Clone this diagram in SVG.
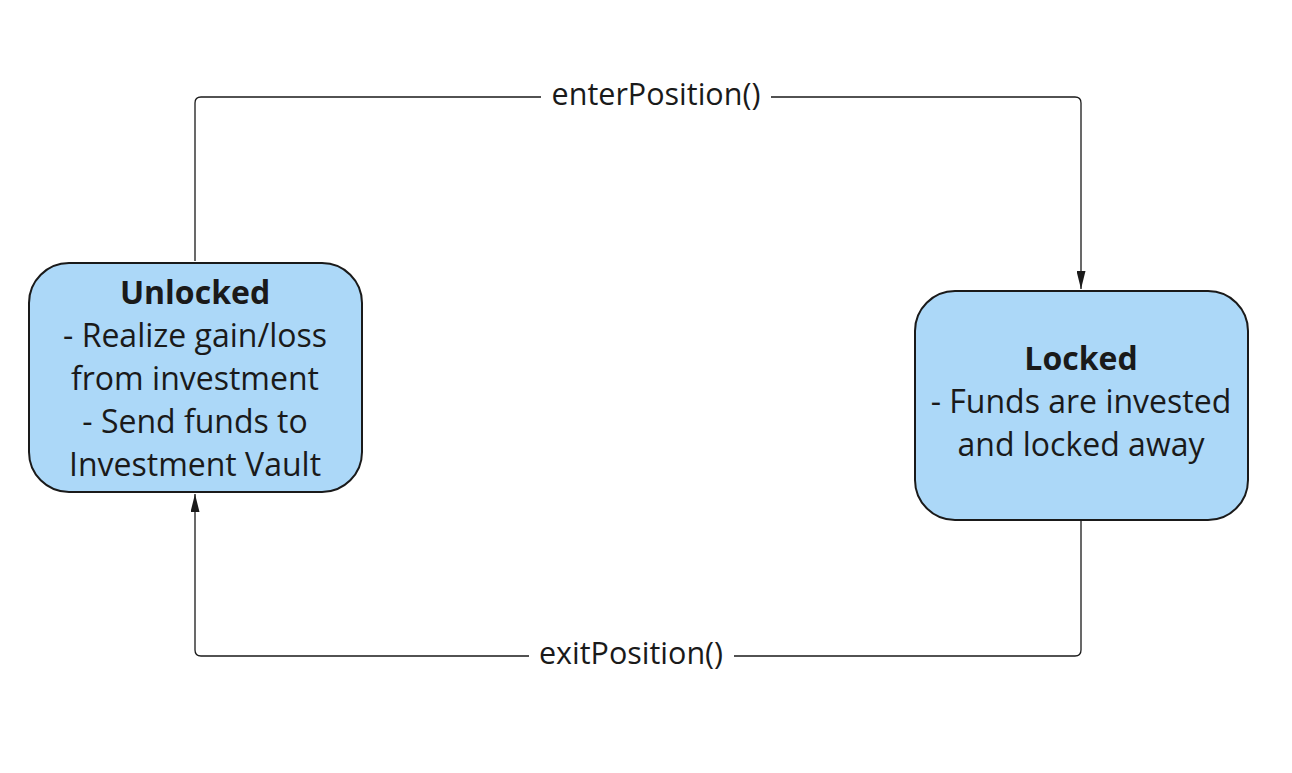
<svg xmlns="http://www.w3.org/2000/svg" width="1292" height="773" viewBox="0 0 1292 773">
<style>
.node{fill:#acd8f8;stroke:#1a1a1a;stroke-width:2}
.t{font-family:"Open Sans","Noto Sans",sans-serif;font-size:32px;fill:#1a1a1a;text-anchor:middle}
.b{font-weight:bold}
.edge{fill:none;stroke:#1a1a1a;stroke-width:1.3}
.lbl{font-family:"Open Sans","Noto Sans",sans-serif;font-size:30.5px;fill:#1a1a1a;text-anchor:middle}
</style>
<defs>
<marker id="a2" viewBox="0 0 18 9" refX="18" refY="4.5" markerWidth="18" markerHeight="9" markerUnits="userSpaceOnUse" orient="auto">
<path d="M0,0 L18,4.5 L0,9 Z" fill="#1a1a1a"/>
</marker>
</defs>
<rect width="1292" height="773" fill="#ffffff"/>
<g id="connectors">
<path class="edge" d="M195,261 V103 Q195,97 201,97 H541 M771,97 H1075 Q1081,97 1081,103 V289" marker-end="url(#a2)"/>
<path class="edge" d="M1081,521 V650 Q1081,656 1075,656 H734 M529,656 H201 Q195,656 195,650 V494" marker-end="url(#a2)"/>
<text class="lbl" x="656" y="105">enterPosition()</text>
<text class="lbl" x="631" y="664">exitPosition()</text>
</g>
<g id="unlocked">
<rect class="node" x="29" y="263" width="333" height="229" rx="40"/>
<text class="t b" x="195" y="304">Unlocked</text>
<text class="t" x="195" y="347">- Realize gain/loss</text>
<text class="t" x="195" y="390">from investment</text>
<text class="t" x="195" y="433">- Send funds to</text>
<text class="t" x="195" y="476">Investment Vault</text>
</g>
<g id="locked">
<rect class="node" x="915" y="291" width="333" height="229" rx="40"/>
<text class="t b" x="1081" y="370">Locked</text>
<text class="t" x="1081" y="413">- Funds are invested</text>
<text class="t" x="1081" y="456">and locked away</text>
</g>
</svg>
